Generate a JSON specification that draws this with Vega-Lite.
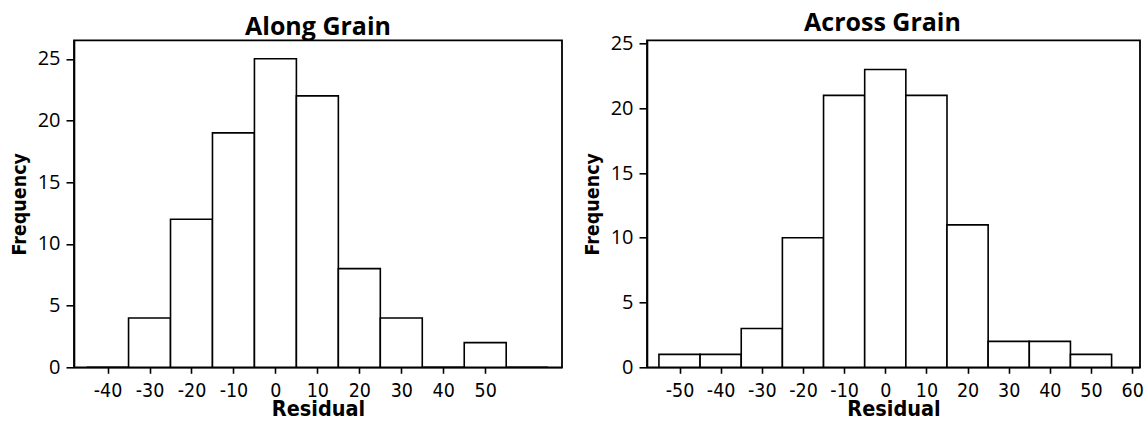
{
  "$schema": "https://vega.github.io/schema/vega-lite/v6.json",
  "background": "white",
  "padding": {"left": 8, "top": 9.3, "right": 0, "bottom": 0},
  "autosize": {"type": "pad"},
  "spacing": 18,
  "datasets": {
    "along": [
      {"start": -45, "end": -35, "count": 0},
      {"start": -35, "end": -25, "count": 4},
      {"start": -25, "end": -15, "count": 12},
      {"start": -15, "end": -5, "count": 19},
      {"start": -5, "end": 5, "count": 25},
      {"start": 5, "end": 15, "count": 22},
      {"start": 15, "end": 25, "count": 8},
      {"start": 25, "end": 35, "count": 4},
      {"start": 35, "end": 45, "count": 0},
      {"start": 45, "end": 55, "count": 2},
      {"start": 55, "end": 65, "count": 0}
    ],
    "across": [
      {"start": -55, "end": -45, "count": 1},
      {"start": -45, "end": -35, "count": 1},
      {"start": -35, "end": -25, "count": 3},
      {"start": -25, "end": -15, "count": 10},
      {"start": -15, "end": -5, "count": 21},
      {"start": -5, "end": 5, "count": 23},
      {"start": 5, "end": 15, "count": 21},
      {"start": 15, "end": 25, "count": 11},
      {"start": 25, "end": 35, "count": 2},
      {"start": 35, "end": 45, "count": 2},
      {"start": 45, "end": 55, "count": 1}
    ]
  },
  "config": {
    "view": {"stroke": "black", "strokeWidth": 1.8},
    "axis": {
      "grid": false,
      "domainColor": "black",
      "domainWidth": 1.6,
      "tickColor": "black",
      "tickWidth": 1.6,
      "labelColor": "black",
      "titleColor": "black",
      "titleFont": "DejaVu Sans Condensed, DejaVu Sans",
      "titleFontWeight": "bold"
    },
    "axisX": {
      "labelFont": "DejaVu Sans Condensed, DejaVu Sans",
      "labelFontSize": 19.5,
      "labelExpr": "replace(datum.label, '−', '-')",
      "tickSize": 6,
      "labelPadding": 8,
      "titlePadding": -1,
      "titleFontSize": 21.5
    },
    "axisY": {
      "labelFont": "Open Sans",
      "labelFontSize": 20,
      "tickSize": 8,
      "labelPadding": 6,
      "titlePadding": 8,
      "titleFontSize": 19.5
    },
    "title": {
      "font": "Open Sans",
      "fontSize": 25,
      "fontWeight": "bold",
      "color": "black",
      "anchor": "middle"
    }
  },
  "hconcat": [
    {
      "width": 488,
      "height": 327,
      "title": {"text": "Along Grain", "offset": 0.5},
      "data": {"name": "along"},
      "mark": {"type": "bar", "fill": "white", "stroke": "black", "strokeWidth": 1.6},
      "encoding": {
        "x": {
          "field": "start",
          "type": "quantitative",
          "scale": {"domain": [-48, 68.3], "nice": false, "zero": false},
          "axis": {"values": [-40, -30, -20, -10, 0, 10, 20, 30, 40, 50], "title": "Residual"}
        },
        "x2": {"field": "end"},
        "y": {
          "field": "count",
          "type": "quantitative",
          "scale": {"domain": [0, 26.5], "nice": false},
          "axis": {"values": [0, 5, 10, 15, 20, 25], "title": "Frequency"}
        },
        "y2": {"datum": 0}
      }
    },
    {
      "width": 493,
      "height": 327,
      "title": {"text": "Across Grain", "offset": -2.5, "dx": -11},
      "data": {"name": "across"},
      "mark": {"type": "bar", "fill": "white", "stroke": "black", "strokeWidth": 1.6},
      "encoding": {
        "x": {
          "field": "start",
          "type": "quantitative",
          "scale": {"domain": [-57.9, 61.9], "nice": false, "zero": false},
          "axis": {"values": [-50, -40, -30, -20, -10, 0, 10, 20, 30, 40, 50, 60], "title": "Residual"}
        },
        "x2": {"field": "end"},
        "y": {
          "field": "count",
          "type": "quantitative",
          "scale": {"domain": [0, 25.25], "nice": false},
          "axis": {"values": [0, 5, 10, 15, 20, 25], "title": "Frequency"}
        },
        "y2": {"datum": 0}
      }
    }
  ]
}
